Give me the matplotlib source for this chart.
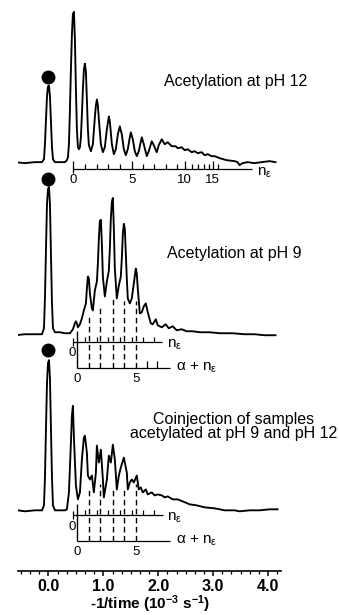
"""
    Electrophoregrammes d'une proteine acetylee (pH 12, pH 9 et coinjection)
    avec les echelles de charge n_eps et alpha + n_eps sous chaque trace.
"""

import matplotlib
matplotlib.use("Agg")
import matplotlib.pyplot as plt
from matplotlib.ticker import MultipleLocator, FormatStrFormatter

plt.rcParams['font.family'] = ['Liberation Sans', 'DejaVu Sans']
plt.rcParams['mathtext.fontset'] = 'custom'
plt.rcParams['mathtext.rm'] = 'Liberation Sans'
plt.rcParams['mathtext.it'] = 'Liberation Sans:italic'
plt.rcParams['mathtext.bf'] = 'Liberation Sans:bold'

# donnees : abscisse en -1/temps (10^-3 s^-1), signal en unites arbitraires
temps_ph12 = [-0.61, -0.43, -0.25, -0.118, -0.082, -0.064, -0.045, -0.027, -0.009, 0.009,
              0.027, 0.045, 0.064, 0.082, 0.118, 0.209, 0.30, 0.336, 0.355, 0.373,
              0.391, 0.409, 0.427, 0.445, 0.464, 0.482, 0.50, 0.518, 0.536, 0.555,
              0.573, 0.591, 0.609, 0.627, 0.645, 0.664, 0.682, 0.70, 0.718, 0.736,
              0.773, 0.809, 0.845, 0.864, 0.882, 0.90, 0.918, 0.955, 0.991, 1.027,
              1.064, 1.10, 1.118, 1.155, 1.191, 1.227, 1.264, 1.30, 1.336, 1.373,
              1.409, 1.445, 1.482, 1.50, 1.536, 1.573, 1.609, 1.645, 1.70, 1.736,
              1.791, 1.827, 1.882, 1.918, 1.973, 2.009, 2.064, 2.118, 2.173, 2.245,
              2.318, 2.355, 2.427, 2.482, 2.536, 2.609, 2.664, 2.718, 2.791, 2.845,
              2.90, 2.973, 3.027, 3.118, 3.245, 3.391, 3.445, 3.482, 3.536, 3.627,
              3.755, 3.882, 4.027, 4.136]
signal_ph12 = [0, -1, 0, 0, 3, 18, 43, 66, 76, 77,
               66, 41, 15, 3, 0, 0, 0, 2, 5, 18,
               53, 93, 128, 149, 151, 123, 73, 33, 15, 13,
               15, 25, 48, 73, 93, 99, 91, 63, 33, 17,
               11, 18, 45, 57, 63, 57, 43, 18, 10, 15,
               33, 46, 41, 18, 8, 13, 28, 36, 28, 13,
               7, 13, 25, 30, 23, 11, 6, 11, 25, 18,
               6, 11, 21, 17, 10, 17, 23, 18, 20, 16,
               16, 14, 15, 12, 13, 10, 11, 9, 10, 7,
               8, 6, 6, 4, 2, 1, 0, -3, -1, 0,
               -1, 0, 1, 0]

temps_ph9 = [-0.61, -0.43, -0.245, -0.118, -0.082, -0.064, -0.045, -0.027, -0.009, 0.009,
             0.027, 0.045, 0.064, 0.082, 0.118, 0.209, 0.30, 0.391, 0.445, 0.482,
             0.50, 0.518, 0.536, 0.573, 0.609, 0.645, 0.682, 0.70, 0.718, 0.736,
             0.755, 0.791, 0.809, 0.845, 0.882, 0.90, 0.918, 0.936, 0.955, 0.973,
             0.991, 1.027, 1.064, 1.10, 1.118, 1.136, 1.155, 1.173, 1.191, 1.209,
             1.245, 1.282, 1.318, 1.336, 1.355, 1.373, 1.391, 1.409, 1.427, 1.445,
             1.482, 1.518, 1.555, 1.591, 1.609, 1.627, 1.664, 1.70, 1.736, 1.773,
             1.809, 1.864, 1.90, 1.955, 1.991, 2.064, 2.136, 2.191, 2.264, 2.336,
             2.427, 2.518, 2.627, 2.755, 2.936, 3.118, 3.355, 3.573, 3.755, 3.936,
             4.136]
signal_ph9 = [-2, -1, -1, -1, 5, 35, 85, 130, 145, 147,
              130, 80, 30, 5, 1, 1, 0, 0, 4, 10,
              12, 10, 6, 9, 15, 23, 30, 45, 57, 55,
              40, 25, 23, 43, 52, 70, 95, 113, 114, 90,
              57, 37, 52, 63, 85, 115, 132, 136, 105, 65,
              35, 48, 57, 75, 100, 110, 105, 80, 55, 35,
              30, 35, 50, 65, 60, 45, 20, 21, 27, 30,
              21, 10, 9, 14, 8, 6, 9, 5, 7, 3,
              4, 2, 2, 1, 1, 0, 0, -1, -1, -2,
              -2]

temps_coinj = [-0.555, -0.43, -0.245, -0.118, -0.082, -0.064, -0.045, -0.027, -0.009, 0.009,
               0.027, 0.045, 0.064, 0.082, 0.118, 0.209, 0.30, 0.336, 0.373, 0.409,
               0.427, 0.445, 0.464, 0.50, 0.536, 0.573, 0.609, 0.645, 0.664, 0.70,
               0.718, 0.755, 0.791, 0.827, 0.864, 0.882, 0.918, 0.955, 0.991, 1.009,
               1.064, 1.10, 1.136, 1.173, 1.209, 1.245, 1.282, 1.318, 1.373, 1.427,
               1.445, 1.482, 1.518, 1.555, 1.609, 1.645, 1.682, 1.718, 1.773, 1.809,
               1.882, 1.936, 1.991, 2.064, 2.118, 2.173, 2.264, 2.355, 2.445, 2.573,
               2.70, 2.845, 3.027, 3.209, 3.391, 3.482, 3.664, 3.845, 4.027, 4.173]
signal_coinj = [0, -1, 0, 0, 5, 33, 83, 128, 148, 151,
                133, 83, 33, 5, 0, 0, 0, 1, 18, 68,
                95, 105, 73, 25, 11, 18, 51, 73, 75, 58,
                35, 31, 35, 18, 38, 65, 48, 61, 31, 13,
                31, 55, 48, 66, 51, 21, 35, 43, 53, 38,
                21, 28, 31, 28, 35, 21, 23, 18, 21, 16,
                18, 15, 16, 15, 13, 14, 11, 11, 9, 6,
                5, 3, 2, 0, 0, -1, 0, 0, 1, 1]

# pic marque d'un point noir (position, hauteur du point pour chaque trace)
temps_point = -0.01
hauteur_point = [86, 155, 161]

# positions des barreaux des echelles de charge
echelle_n_ph12 = [0.445, 0.664, 0.882, 1.082, 1.30, 1.518, 1.718, 1.918, 2.136, 2.336,
                  2.482, 2.609, 2.718, 2.827, 2.918, 2.991, 3.082]
echelle_n = echelle_n_ph12[:8]
echelle_alpha = [0.518, 0.736, 0.936, 1.173, 1.373, 1.591, 1.791, 1.973]
etiquettes_ph12 = ['0', '5', '10', '15']

# sommet des traits tiretes (alpha + n = 1..5)
haut_tirets_ph9 = [257, 267, 274, 271, 271]
haut_tirets_coinj = [82, 87, 81, 84, 87]

titres = ["Acetylation at pH 12", "Acetylation at pH 9",
          "Coinjection of samples\nacetylated at pH 9 and pH 12"]

NEPS = r'n$_{\mathrm{\varepsilon}}$'
ANEPS = r'$\mathrm{\alpha}$ + n$_{\mathrm{\varepsilon}}$'
T_ECH = 9.5     # taille des chiffres des echelles
T_TXT = 11.5    # taille des titres


def tracer_echelle_n(ax, y, positions, fin, zero_long=False):
    """Echelle n_eps : ligne horizontale et petits barreaux vers le haut."""
    ax.hlines(y, positions[0], fin, color='black', lw=0.9)
    for i, p in enumerate(positions):
        if i == 0:
            ax.vlines(p, y - 4, y + 8 if zero_long else y + 4, color='black', lw=0.9)
        elif zero_long and i % 5 == 0:
            ax.vlines(p, y, y + 8, color='black', lw=0.9)
        else:
            ax.vlines(p, y, y + 5, color='black', lw=0.9)


def tracer_echelle_alpha(ax, y, positions, hauts, fin, nb_courts):
    """Echelle alpha + n_eps : zero plein, 1..5 tiretes jusqu'a la trace."""
    ax.hlines(y, positions[0], fin, color='black', lw=0.9)
    ax.vlines(positions[0], y, y + 37, color='black', lw=1.0)
    for p, h in zip(positions[1:6], hauts):
        ax.vlines(p, y, h, color='black', lw=1.0, linestyles=(0, (4, 2.5)))
    for p in positions[6:6 + nb_courts]:
        ax.vlines(p, y, y + 7, color='black', lw=0.9)
    ax.text(positions[0], y - 11, '0', fontsize=T_ECH, ha='center', va='center')
    ax.text(positions[5], y - 11, '5', fontsize=T_ECH, ha='center', va='center')
    ax.text(fin + 0.11, y, ANEPS, fontsize=11, ha='left', va='center')


fig = plt.figure(figsize=(3.39, 6.15), dpi=100)
ax = fig.add_axes([18 / 339, 44 / 615, 263 / 339, 571 / 615])

# decalage vertical de chaque trace
decalages = [411, 239, 61]
traces = [(temps_ph12, signal_ph12), (temps_ph9, signal_ph9), (temps_coinj, signal_coinj)]

for (t, s), d, hp in zip(traces, decalages, hauteur_point):
    ax.plot(t, [v + d for v in s], color='black', lw=1.35, solid_joinstyle='round')
    ax.plot([temps_point], [hp + d], 'o', color='black', markersize=9)

# textes
ax.text(3.41, 492, titres[0], fontsize=T_TXT, ha='center', va='center')
ax.text(3.39, 319, titres[1], fontsize=T_TXT, ha='center', va='center')
ax.text(3.38, 145, titres[2], fontsize=T_TXT, ha='center', va='center', linespacing=0.95)

# echelle pH 12
tracer_echelle_n(ax, 404, echelle_n_ph12, 3.70, zero_long=True)
for i, lab in zip([0, 5, 10, 15], etiquettes_ph12):
    ax.text(echelle_n_ph12[i], 393, lab, fontsize=T_ECH, ha='center', va='center')
ax.text(3.80, 400, NEPS, fontsize=11, ha='left', va='center')

# echelles pH 9
tracer_echelle_n(ax, 230, echelle_n, 2.064)
ax.text(0.43, 219, '0', fontsize=T_ECH, ha='center', va='center')
ax.text(2.155, 227, NEPS, fontsize=11, ha='left', va='center')
tracer_echelle_alpha(ax, 204, echelle_alpha, haut_tirets_ph9, 2.209, 2)

# echelles coinjection
tracer_echelle_n(ax, 56, echelle_n, 2.082)
ax.text(0.44, 44, '0', fontsize=T_ECH, ha='center', va='center')
ax.text(2.155, 53, NEPS, fontsize=11, ha='left', va='center')
tracer_echelle_alpha(ax, 30, echelle_alpha, haut_tirets_coinj, 2.209, 0)

# axes
ax.set_xlim(-0.555, 4.236)
ax.set_ylim(0, 574)
for cote in ['top', 'left', 'right']:
    ax.spines[cote].set_visible(False)
ax.spines['bottom'].set_linewidth(1.2)
ax.set_yticks([])
ax.xaxis.set_major_locator(MultipleLocator(1.0))
ax.xaxis.set_minor_locator(MultipleLocator(1 / 6))
ax.xaxis.set_major_formatter(FormatStrFormatter('%.1f'))
ax.tick_params(axis='x', which='major', length=3.5, width=1.1, labelsize=11.5, pad=2)
ax.tick_params(axis='x', which='minor', length=2, width=0.9)
for lbl in ax.get_xticklabels():
    lbl.set_fontweight('bold')
ax.set_xlabel(r'-1/time (10$^{\mathbf{-3}}$ s$^{\mathbf{-1}}$)', fontsize=11,
              fontweight='bold', labelpad=0)
ax.patch.set_visible(False)

fig.savefig('out.png', dpi=100)
